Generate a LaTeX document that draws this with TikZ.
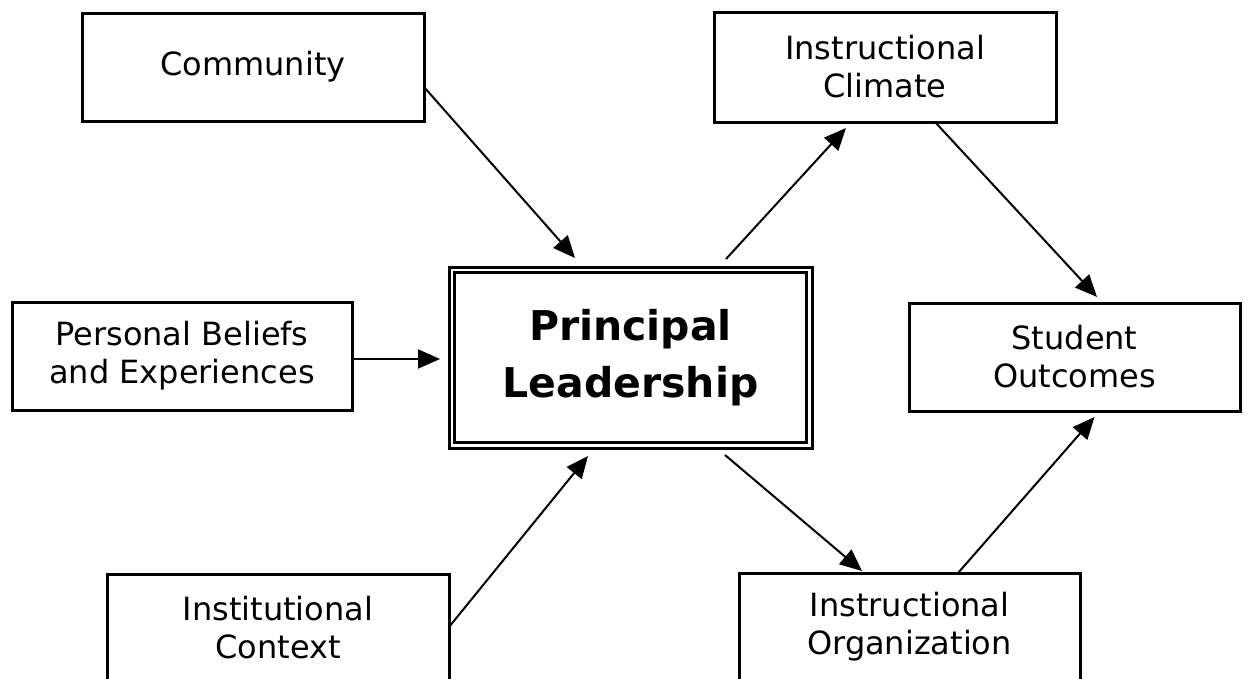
\documentclass[tikz,border=0pt]{standalone}
\usepackage{fontspec}
\setmainfont{DejaVu Sans}
\usetikzlibrary{arrows.meta,calc}
\begin{document}
\begin{tikzpicture}[x=1pt,y=-1pt,
  box/.style={draw, line width=3pt, outer sep=0pt, inner sep=0pt, align=center,
    font=\fontsize{32}{38}\selectfont, minimum width=342pt, minimum height=108pt},
  mainbox/.style={box, minimum width=363pt, minimum height=181pt,
    font=\fontsize{41}{57}\selectfont\bfseries},
  link/.style={line width=2pt, -{Triangle[length=22pt,width=19pt]}}]
\useasboundingbox (0,0) rectangle (1249,678);
\clip (0,0) rectangle (1249,678);

% boxes
\node[box] (comm) at (253,67) {Community};
\node[box, minimum height=110pt] (clim) at (885,67) {Instructional\\Climate};
\node[box, minimum width=340pt] (pers) at (182,356) {Personal Beliefs\\and Experiences};
\node[mainbox] (pl) at (630.5,357.5) {Principal\\Leadership};
\draw[line width=2.5pt] ($(pl.north west)+(5.5,5.5)$) rectangle ($(pl.south east)+(-5.5,-5.5)$);
\node[box, minimum width=331pt] (stud) at (1074.5,357) {Student\\Outcomes};
\node[box] (ctx) at (278,628) {Institutional\\Context};
\node[box, minimum width=341pt] (org) at (909.5,627) {Instructional\\Organization};

% influences on leadership
\draw[link] ($(comm.east)+(0,20)$) -- ($(pl.north)+(-55.5,-9)$);
\draw[link] ($(pers.east)+(0,3)$) -- ($(pl.west)+(-9,1.5)$);
\draw[link] ($(ctx.east)+(0,-1)$) -- ($(pl.south)+(-42.5,8)$);

% leadership effects
\draw[link] ($(pl.north)+(95.5,-8)$) -- ($(clim.south)+(-39,6)$);
\draw[link] ($(pl.south)+(94.5,7)$) -- ($(org.north)+(-47.5,-2)$);
\draw[link] ($(clim.south)+(50,0)$) -- ($(stud.north)+(22.5,-6)$);
\draw[link] ($(org.north)+(48.5,0)$) -- ($(stud.south)+(20,6)$);
\end{tikzpicture}
\end{document}
